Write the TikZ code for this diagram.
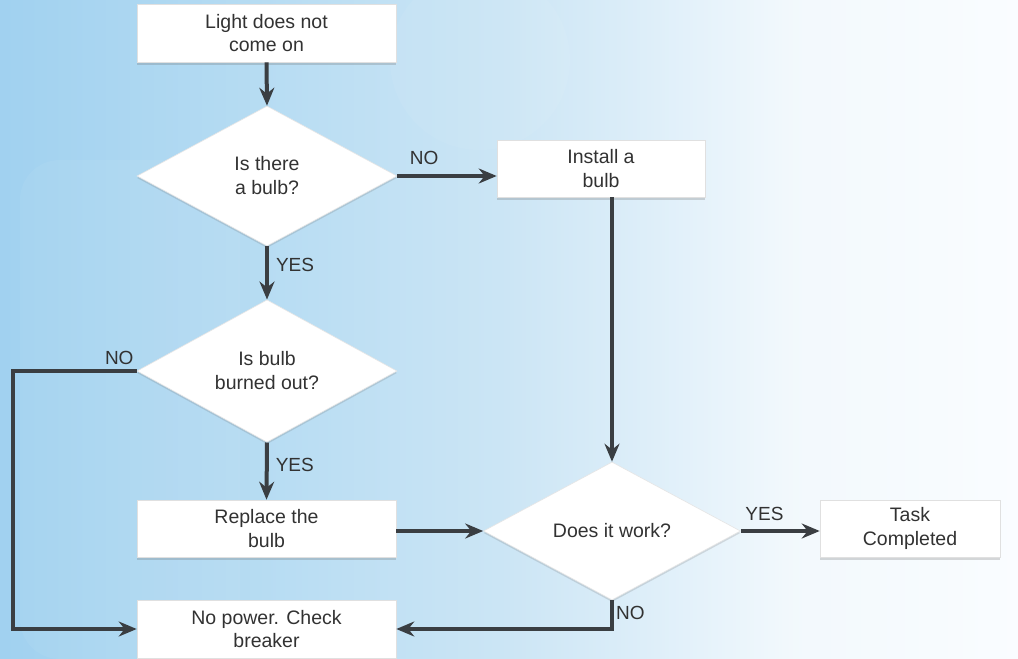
\documentclass[tikz,border=0pt]{standalone}
\usepackage{fontspec}
\setmainfont{Liberation Sans}
\usetikzlibrary{shapes.geometric,arrows.meta,shadows,calc}
\definecolor{ink}{RGB}{58,62,66}
\definecolor{txt}{RGB}{50,50,50}
% visible range of the shading is 25bp..75bp
\pgfdeclarehorizontalshading{bgshade}{100bp}{
  rgb(0bp)=(0.62,0.81,0.93);
  rgb(25bp)=(0.63,0.82,0.94);
  rgb(37bp)=(0.71,0.86,0.95);
  rgb(50bp)=(0.80,0.90,0.96);
  rgb(56bp)=(0.86,0.93,0.975);
  rgb(64bp)=(0.95,0.975,0.99);
  rgb(75bp)=(0.98,0.99,1);
  rgb(100bp)=(0.98,0.99,1)}
\tikzset{
  box/.style={rectangle, fill=white, draw=black!12, line width=0.6pt, inner sep=0pt,
    align=center, text=txt, font=\fontsize{19.5}{23.5}\selectfont,
    drop shadow={shadow xshift=0pt, shadow yshift=-2.5pt, opacity=0.25, fill=black!60}},
  dia/.style={diamond, fill=white, draw=black!10, line width=0.6pt, inner sep=0pt,
    align=center, text=txt, font=\fontsize{19.5}{24}\selectfont,
    drop shadow={shadow xshift=0pt, shadow yshift=-2pt, opacity=0.2, fill=black!60}},
  arr/.style={draw=ink, line width=4pt, -{Stealth[length=18pt,width=15pt,inset=6pt]}},
  lab/.style={text=txt, font=\fontsize{19}{22}\selectfont, inner sep=0pt},
}
\begin{document}
\begin{tikzpicture}[x=1pt,y=-1pt]
\useasboundingbox (0,0) rectangle (1018,659);
\shade[shading=bgshade] (0,0) rectangle (1018,659);
\fill[white, opacity=0.05] (20,160) [rounded corners=40pt] rectangle (240,659);
\fill[white, opacity=0.05] (480,60) circle (90);

\node[box, minimum width=259pt, minimum height=58pt] (b1) at (266.5,33) {Light does not\\come on};
\node[dia, minimum width=260pt, minimum height=140pt] (d1) at (267,176) {Is there\\a bulb?};
\node[box, minimum width=208pt, minimum height=57pt] (inst) at (601,168.5) {Install a\\bulb};
\node[dia, minimum width=260pt, minimum height=142pt] (d2) at (267,371) {Is bulb\\burned out?};
\node[box, minimum width=259pt, minimum height=57pt] (rep) at (266.5,528.5) {Replace the\\bulb};
\node[box, minimum width=259pt, minimum height=58pt] (np) at (266.5,629) {No power. Check\\breaker};
\node[dia, minimum width=257pt, minimum height=138pt] (d3) at (612,531) {Does it work?};
\node[box, minimum width=180pt, minimum height=57pt] (task) at (910,528.5) {Task\\Completed};
\coordinate (lx) at (13,0);

\draw[arr] (b1.south) -- (d1.north);
\draw[arr] (d1.east) -- node[lab, above=9pt, pos=0.27] (no1) {NO} (d1.east -| inst.west);
\draw[arr] (d1.south) -- node[lab, right=7pt, pos=0.35] (yes1) {YES} (d2.north);
\draw[arr] (inst.south -| d3.north) -- (d3.north);
\draw[arr] (d2.west) -- (d2.west -| lx) |- (np.west);
\node[lab, anchor=south east] (no2) at ($(d2.west)+(-3,-6)$) {NO};
\draw[arr] (d2.south) -- node[lab, right=7pt, pos=0.4] (yes2) {YES} (rep.north);
\draw[arr] (d3.west -| rep.east) -- (d3.west);
\draw[arr] (d3.east) -- node[lab, above=8pt, pos=0.3] (yes3) {YES} (d3.east -| task.west);
\draw[arr] (d3.south) |- (np.east);
\node[lab, anchor=west] (no3) at ($(d3.south)+(4,13)$) {NO};
\end{tikzpicture}
\end{document}
